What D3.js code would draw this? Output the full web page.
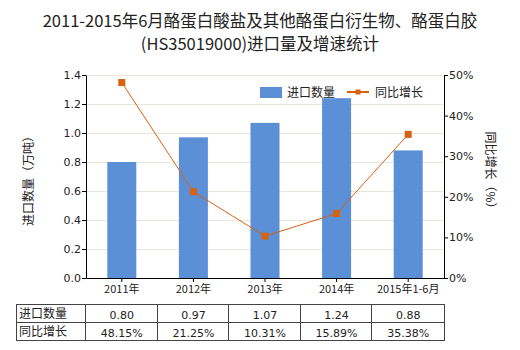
<!DOCTYPE html>
<html><head><meta charset="utf-8">
<script src="https://cdn.jsdelivr.net/npm/d3@7"></script>
<style>body{margin:0;background:#fff;}svg{display:block;font-family:"Microsoft YaHei","Noto Sans CJK SC",sans-serif;}</style>
</head><body>
<svg id="c" width="520" height="350"></svg>
<script>
const categories = ["2011年","2012年","2013年","2014年","2015年1-6月"];
const importQty = [0.80,0.97,1.07,1.24,0.88];
const growth = [48.15,21.25,10.31,15.89,35.38];
const leftTicks = [0,0.2,0.4,0.6,0.8,1.0,1.2,1.4];
const rightTicks = [0,10,20,30,40,50];
const titleLines = ["2011-2015年6月酪蛋白酸盐及其他酪蛋白衍生物、酪蛋白胶","(HS35019000)进口量及增速统计"];
const seriesNames = ["进口数量","同比增长"];
const axisTitles = ["进口数量（万吨）","同比增长（%）"];

const svg = d3.select("#c");
const L=86, R=444, T=75, B=278;
const x = d3.scaleBand().domain(categories).range([L,R]).paddingInner(0).paddingOuter(0);
const yL = d3.scaleLinear().domain([0,1.4]).range([B,T]);
const yR = d3.scaleLinear().domain([0,50]).range([B,T]);
const barColor="#5b8fd6", lineColor="#d8620f", txt="#222";

svg.selectAll(".title").data(titleLines).join("text")
  .attr("x",260).attr("y",(d,i)=>27+i*23).attr("text-anchor","middle")
  .attr("font-size",16.5).attr("fill",txt).text(d=>d);

// grid
svg.append("g").selectAll("line").data(leftTicks.slice(1)).join("line")
  .attr("x1",L).attr("x2",R).attr("y1",d=>yL(d)+0.5).attr("y2",d=>yL(d)+0.5)
  .attr("stroke","#e9e7dd").attr("stroke-width",1);

// bars
const bw=29;
svg.append("g").selectAll("rect").data(importQty).join("rect")
  .attr("x",(d,i)=>x(categories[i])+x.bandwidth()/2-bw/2).attr("width",bw)
  .attr("y",d=>yL(d)).attr("height",d=>B-yL(d)).attr("fill",barColor);

// line
const line = d3.line().x((d,i)=>x(categories[i])+x.bandwidth()/2).y(d=>yR(d));
svg.append("path").datum(growth).attr("d",line).attr("fill","none").attr("stroke",lineColor).attr("stroke-width",1);
svg.append("g").selectAll("rect").data(growth).join("rect")
  .attr("x",(d,i)=>x(categories[i])+x.bandwidth()/2-3.5).attr("y",d=>yR(d)-3.5)
  .attr("width",7).attr("height",7).attr("fill",lineColor);

// axes
const axL = svg.append("g").attr("transform",`translate(${L},0)`)
  .call(d3.axisLeft(yL).tickValues(leftTicks).tickFormat(d3.format(".1f")).tickSize(4).tickSizeOuter(0));
const axR = svg.append("g").attr("transform",`translate(${R},0)`)
  .call(d3.axisRight(yR).tickValues(rightTicks).tickFormat(d=>d+"%").tickSize(4).tickSizeOuter(0));
const axB = svg.append("g").attr("transform",`translate(0,${B})`)
  .call(d3.axisBottom(x).tickSize(4).tickSizeOuter(0));
[axL,axR,axB].forEach(a=>{
  a.selectAll("path,line").attr("stroke","#000");
  a.selectAll("text").attr("font-size",11).attr("fill",txt).attr("font-family","Verdana,'DejaVu Sans','Noto Sans CJK SC',sans-serif");
});
axL.selectAll("text").attr("x",-5);
axR.selectAll("text").attr("x",5);
axB.selectAll("text").attr("y",7).attr("font-family","'Noto Sans CJK SC',sans-serif").attr("font-size",11);

// axis titles
svg.append("text").attr("transform","translate(33,178) rotate(-90)").attr("text-anchor","middle")
  .attr("font-size",12).attr("fill",txt).text(axisTitles[0]);
svg.append("text").attr("transform","translate(486,173) rotate(90)").attr("text-anchor","middle")
  .attr("font-size",12).attr("fill",txt).text(axisTitles[1]);

// legend
svg.append("rect").attr("x",260).attr("y",87).attr("width",22).attr("height",11).attr("fill",barColor);
svg.append("text").attr("x",287).attr("y",97).attr("font-size",12).attr("fill",txt).text(seriesNames[0]);
svg.append("line").attr("x1",347).attr("x2",369).attr("y1",92).attr("y2",92).attr("stroke",lineColor).attr("stroke-width",2);
svg.append("rect").attr("x",355.5).attr("y",89.5).attr("width",5).attr("height",5).attr("fill",lineColor);
svg.append("text").attr("x",375).attr("y",97).attr("font-size",12).attr("fill",txt).text(seriesNames[1]);

// table
const tT=304.5, rh=18, tL=16;
const tg = svg.append("g");
const rows = [{name:seriesNames[0], vals:importQty.map(d=>d.toFixed(2))},{name:seriesNames[1], vals:growth.map(d=>d.toFixed(2)+"%")}];
tg.append("rect").attr("x",tL+0.5).attr("y",tT).attr("width",R-tL).attr("height",rh*2).attr("fill","none").attr("stroke","#444");
tg.append("line").attr("x1",tL).attr("x2",R).attr("y1",tT+rh).attr("y2",tT+rh).attr("stroke","#444");
tg.selectAll(".vl").data(categories).join("line")
  .attr("x1",d=>Math.round(x(d))-0.5).attr("x2",d=>Math.round(x(d))-0.5).attr("y1",tT).attr("y2",tT+rh*2).attr("stroke","#444");
rows.forEach((r,ri)=>{
  tg.append("text").attr("x",tL+3).attr("y",tT+rh*ri+13.5).attr("font-size",12).attr("fill",txt).text(r.name);
  tg.selectAll(".v"+ri).data(r.vals).join("text")
    .attr("x",(d,i)=>x(categories[i])+x.bandwidth()/2).attr("y",tT+rh*ri+14)
    .attr("text-anchor","middle").attr("font-size",11).attr("fill",txt)
    .attr("font-family","Verdana,'DejaVu Sans',sans-serif").text(d=>d);
});
</script>
</body></html>
